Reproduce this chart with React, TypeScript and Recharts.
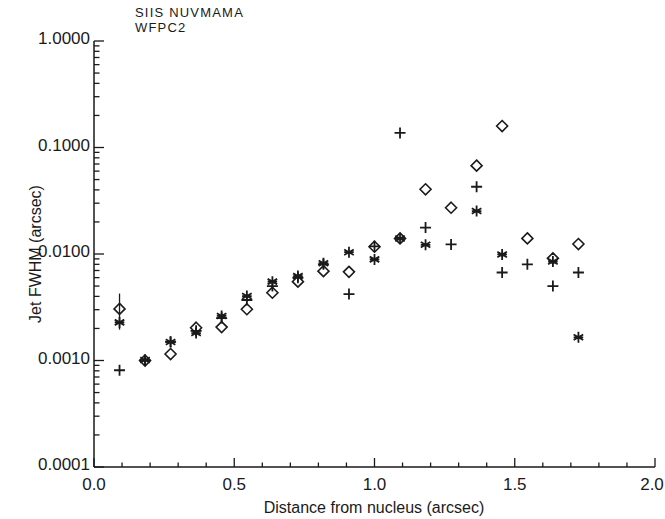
import { ErrorBar, Scatter, ScatterChart, XAxis, YAxis } from "recharts";

// distance from nucleus (arcsec)
const distance = [
  0.091, 0.182, 0.273, 0.364, 0.455, 0.545, 0.636, 0.727, 0.818, 0.909, 1.0,
  1.091, 1.182, 1.273, 1.364, 1.455, 1.545, 1.636, 1.727,
];

// jet FWHM (arcsec), one list per symbol
const diamondFwhm = [
  0.00305, 0.001, 0.00115, 0.00203, 0.00206, 0.00303, 0.00433, 0.0055, 0.0069,
  0.0068, 0.0117, 0.014, 0.0405, 0.0272, 0.0675, 0.159, 0.014, 0.0091, 0.0124,
];
const plusFwhm = [
  0.00081, 0.001, 0.0015, 0.0019, 0.0025, 0.0037, 0.005, 0.006, 0.008, 0.0042,
  0.0118, 0.137, 0.0177, 0.0123, 0.0428, 0.0067, 0.008, 0.005, 0.0067,
];
const starFwhm = [
  0.00228, 0.00101, 0.00149, 0.00181, 0.00262, 0.00403, 0.0055, 0.0062, 0.0082,
  0.0104, 0.0089, 0.014, 0.0122, null, 0.0253, 0.0099, null, 0.0085, 0.00165,
];

// single error bar on the innermost point
const errPoint = [{ x: 0.091, y: 0.00305, err: [0.0011, 0.0012] }];

const xTicks = [
  0, 0.1, 0.2, 0.3, 0.4, 0.5, 0.6, 0.7, 0.8, 0.9, 1.0, 1.1, 1.2, 1.3, 1.4, 1.5,
  1.6, 1.7, 1.8, 1.9, 2.0,
];
const xLabels = ["0.0", "0.5", "1.0", "1.5", "2.0"];
const yMajor = [0.0001, 0.001, 0.01, 0.1, 1];
const yLabels = ["0.0001", "0.0010", "0.0100", "0.1000", "1.0000"];
const yTicks: number[] = [];
yMajor.forEach((m, i) => {
  yTicks.push(m);
  if (i < yMajor.length - 1) for (let k = 2; k <= 9; k++) yTicks.push(m * k);
});

const toPoints = (ys: (number | null)[]) =>
  distance
    .map((x, i) => ({ x, y: ys[i] }))
    .filter((d) => d.y != null);

const FONT = "'Liberation Sans', Arial, sans-serif";
const INK = "#1a1a1a";

const isMajorX = (v: number) => Math.abs(v * 2 - Math.round(v * 2)) < 1e-6;
const yMajorIndex = (v: number) =>
  yMajor.findIndex((m) => Math.abs(v / m - 1) < 1e-6);

function BottomTick({ x, y, payload }: any) {
  const v = payload.value;
  const major = isMajorX(v);
  const idx = Math.round(v * 2);
  // last label would run past the right edge
  const shift = idx === xLabels.length - 1 ? -3 : 0;
  return (
    <g>
      <line x1={x} x2={x} y1={y} y2={y - (major ? 9 : 4.5)} stroke={INK} strokeWidth={1.3} />
      {major && (
        <text x={x + shift} y={y + 23} textAnchor="middle" fontSize={17} fontFamily={FONT} fill={INK}>
          {xLabels[idx]}
        </text>
      )}
    </g>
  );
}

function TopTick({ x, y, payload }: any) {
  const major = isMajorX(payload.value);
  return <line x1={x} x2={x} y1={y} y2={y + (major ? 9 : 4.5)} stroke={INK} strokeWidth={1.3} />;
}

function LeftTick({ x, y, payload }: any) {
  const idx = yMajorIndex(payload.value);
  const major = idx >= 0;
  return (
    <g>
      <line x1={x} x2={x + (major ? 10 : 5.5)} y1={y} y2={y} stroke={INK} strokeWidth={1.3} />
      {major && (
        <text x={x - 4} y={y + 3} textAnchor="end" fontSize={17} fontFamily={FONT} fill={INK}>
          {yLabels[idx]}
        </text>
      )}
    </g>
  );
}

function RightTick({ x, y, payload }: any) {
  const major = yMajorIndex(payload.value) >= 0;
  return <line x1={x} x2={x - (major ? 10 : 5.5)} y1={y} y2={y} stroke={INK} strokeWidth={1.3} />;
}

const R = 5.5;

function Diamond({ cx, cy }: any) {
  return (
    <path
      d={`M${cx},${cy - R}L${cx + R},${cy}L${cx},${cy + R}L${cx - R},${cy}Z`}
      fill="none"
      stroke={INK}
      strokeWidth={1.6}
    />
  );
}

function Plus({ cx, cy }: any) {
  return (
    <path
      d={`M${cx - R},${cy}H${cx + R}M${cx},${cy - R}V${cy + R}`}
      stroke={INK}
      strokeWidth={1.8}
    />
  );
}

function Star({ cx, cy }: any) {
  const dx = R * 0.87;
  const dy = R * 0.5;
  return (
    <path
      d={`M${cx},${cy - R}V${cy + R}M${cx - dx},${cy - dy}L${cx + dx},${cy + dy}M${cx - dx},${cy + dy}L${cx + dx},${cy - dy}M${cx - dx},${cy}H${cx + dx}`}
      stroke={INK}
      strokeWidth={1.8}
    />
  );
}

const Nothing = () => <g />;

const titleStyle = {
  position: "absolute" as const,
  left: 135,
  fontFamily: FONT,
  fontSize: 13,
  letterSpacing: "1.2px",
  lineHeight: "15px",
  color: INK,
  whiteSpace: "nowrap" as const,
};

export default function App() {
  return (
    <div style={{ position: "absolute", left: 0, top: 0, width: 665, height: 519, background: "#fff" }}>
      <div style={{ ...titleStyle, top: 5 }}>SIIS NUVMAMA</div>
      <div style={{ ...titleStyle, top: 20 }}>WFPC2</div>
      <div
        style={{
          position: "absolute",
          left: 36,
          top: 254,
          transform: "translate(-50%, -50%) rotate(-90deg)",
          whiteSpace: "nowrap",
          fontFamily: FONT,
          fontSize: 16,
          color: INK,
        }}
      >
        Jet FWHM (arcsec)
      </div>
      <div
        style={{
          position: "absolute",
          left: 374,
          top: 508,
          transform: "translate(-50%, -50%)",
          whiteSpace: "nowrap",
          fontFamily: FONT,
          fontSize: 16,
          color: INK,
        }}
      >
        Distance from nucleus (arcsec)
      </div>
      <ScatterChart width={665} height={519} margin={{ top: 41, right: 10, bottom: 0, left: 0 }}>
        <XAxis
          xAxisId="b"
          dataKey="x"
          type="number"
          domain={[0, 2]}
          ticks={xTicks}
          interval={0}
          height={52}
          tickSize={0}
          tickMargin={0}
          tickLine={false}
          tick={<BottomTick />}
          axisLine={{ stroke: INK, strokeWidth: 1.5 }}
          allowDataOverflow
        />
        <XAxis
          xAxisId="t"
          orientation="top"
          type="number"
          domain={[0, 2]}
          ticks={xTicks}
          interval={0}
          height={0}
          tickSize={0}
          tickMargin={0}
          tickLine={false}
          tick={<TopTick />}
          axisLine={{ stroke: INK, strokeWidth: 1.5 }}
          allowDataOverflow
        />
        <YAxis
          yAxisId="l"
          dataKey="y"
          type="number"
          scale="log"
          domain={[0.0001, 1]}
          ticks={yTicks}
          interval={0}
          width={94}
          tickSize={0}
          tickMargin={0}
          tickLine={false}
          tick={<LeftTick />}
          axisLine={{ stroke: INK, strokeWidth: 1.5 }}
          allowDataOverflow
        />
        <YAxis
          yAxisId="r"
          orientation="right"
          type="number"
          scale="log"
          domain={[0.0001, 1]}
          ticks={yTicks}
          interval={0}
          width={0}
          tickSize={0}
          tickMargin={0}
          tickLine={false}
          tick={<RightTick />}
          axisLine={{ stroke: INK, strokeWidth: 1.5 }}
          allowDataOverflow
        />
        <Scatter xAxisId="b" yAxisId="l" data={errPoint} shape={<Nothing />} isAnimationActive={false}>
          <ErrorBar dataKey="err" direction="y" width={0} stroke={INK} strokeWidth={1.3} isAnimationActive={false} />
        </Scatter>
        <Scatter xAxisId="b" yAxisId="l" data={toPoints(diamondFwhm)} shape={<Diamond />} isAnimationActive={false} />
        <Scatter xAxisId="b" yAxisId="l" data={toPoints(plusFwhm)} shape={<Plus />} isAnimationActive={false} />
        <Scatter xAxisId="b" yAxisId="l" data={toPoints(starFwhm)} shape={<Star />} isAnimationActive={false} />
      </ScatterChart>
    </div>
  );
}
